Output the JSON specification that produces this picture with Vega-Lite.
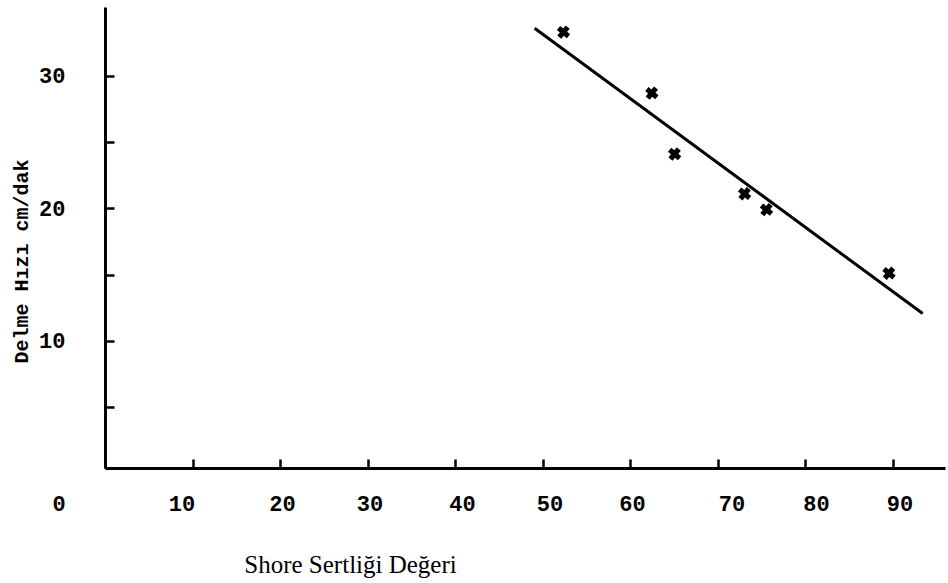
{
  "$schema": "https://vega.github.io/schema/vega-lite/v6.json",
  "width": 840,
  "height": 461,
  "autosize": {"type": "none"},
  "padding": {"left": 105, "top": 7, "right": 3, "bottom": 115},
  "background": "white",
  "config": {
    "view": {"stroke": null},
    "axis": {
      "domainColor": "black",
      "domainWidth": 3,
      "tickColor": "black",
      "tickWidth": 2.5,
      "tickSize": -9,
      "grid": false,
      "labelColor": "black",
      "labelFont": "Liberation Mono",
      "labelFontWeight": "bold",
      "labelFontSize": 22,
      "titleColor": "black"
    }
  },
  "datasets": {
    "obs": [
      {"shore": 52.4, "hiz": 33.3},
      {"shore": 62.5, "hiz": 28.7},
      {"shore": 65.1, "hiz": 24.1},
      {"shore": 73.1, "hiz": 21.1},
      {"shore": 75.6, "hiz": 19.9},
      {"shore": 89.6, "hiz": 15.1}
    ],
    "fit": [
      {"shore": 49.1, "hiz": 33.6},
      {"shore": 93.45, "hiz": 12.06}
    ]
  },
  "layer": [
    {
      "data": {"name": "fit"},
      "mark": {"type": "line", "color": "black", "strokeWidth": 3},
      "encoding": {
        "x": {
          "field": "shore",
          "type": "quantitative",
          "scale": {"domain": [0, 96], "nice": false, "zero": false},
          "axis": {
            "values": [0, 10, 20, 30, 40, 50, 60, 70, 80, 90],
            "labelPadding": 34,
            "labelOffset": {
              "condition": [
                {"test": "datum.value === 0", "value": -53},
                {"test": "datum.value === 10", "value": -11},
                {"test": "datum.value === 40 || datum.value === 50 || datum.value === 90", "value": 7},
                {"test": "datum.value === 70", "value": 14},
                {"test": "datum.value === 80", "value": 11}
              ],
              "value": 2
            },
            "title": "Shore Sertliği Değeri",
            "titleFont": "Liberation Serif",
            "titleFontWeight": "normal",
            "titleFontSize": 25,
            "titleX": 245,
            "titleY": 104,
            "titleAlign": "center",
            "titleBaseline": "alphabetic"
          }
        },
        "y": {
          "field": "hiz",
          "type": "quantitative",
          "scale": {"domain": [0.4, 35.2], "nice": false, "zero": false},
          "axis": {
            "values": [5, 10, 15, 20, 25, 30],
            "labelExpr": "datum.value % 10 === 0 ? datum.label : ''",
            "labelPadding": 49,
            "title": "Delme Hızı cm/dak",
            "titleFont": "Liberation Mono",
            "titleFontWeight": "bold",
            "titleFontSize": 20,
            "titleX": -84,
            "titleY": 254,
            "titleAlign": "center",
            "titleBaseline": "middle",
            "titleAngle": -90
          }
        }
      }
    },
    {
      "data": {"name": "obs"},
      "mark": {"type": "point", "shape": "cross", "filled": true, "color": "black", "size": 170, "angle": 40, "opacity": 1},
      "encoding": {
        "x": {"field": "shore", "type": "quantitative"},
        "y": {"field": "hiz", "type": "quantitative"}
      }
    }
  ]
}
